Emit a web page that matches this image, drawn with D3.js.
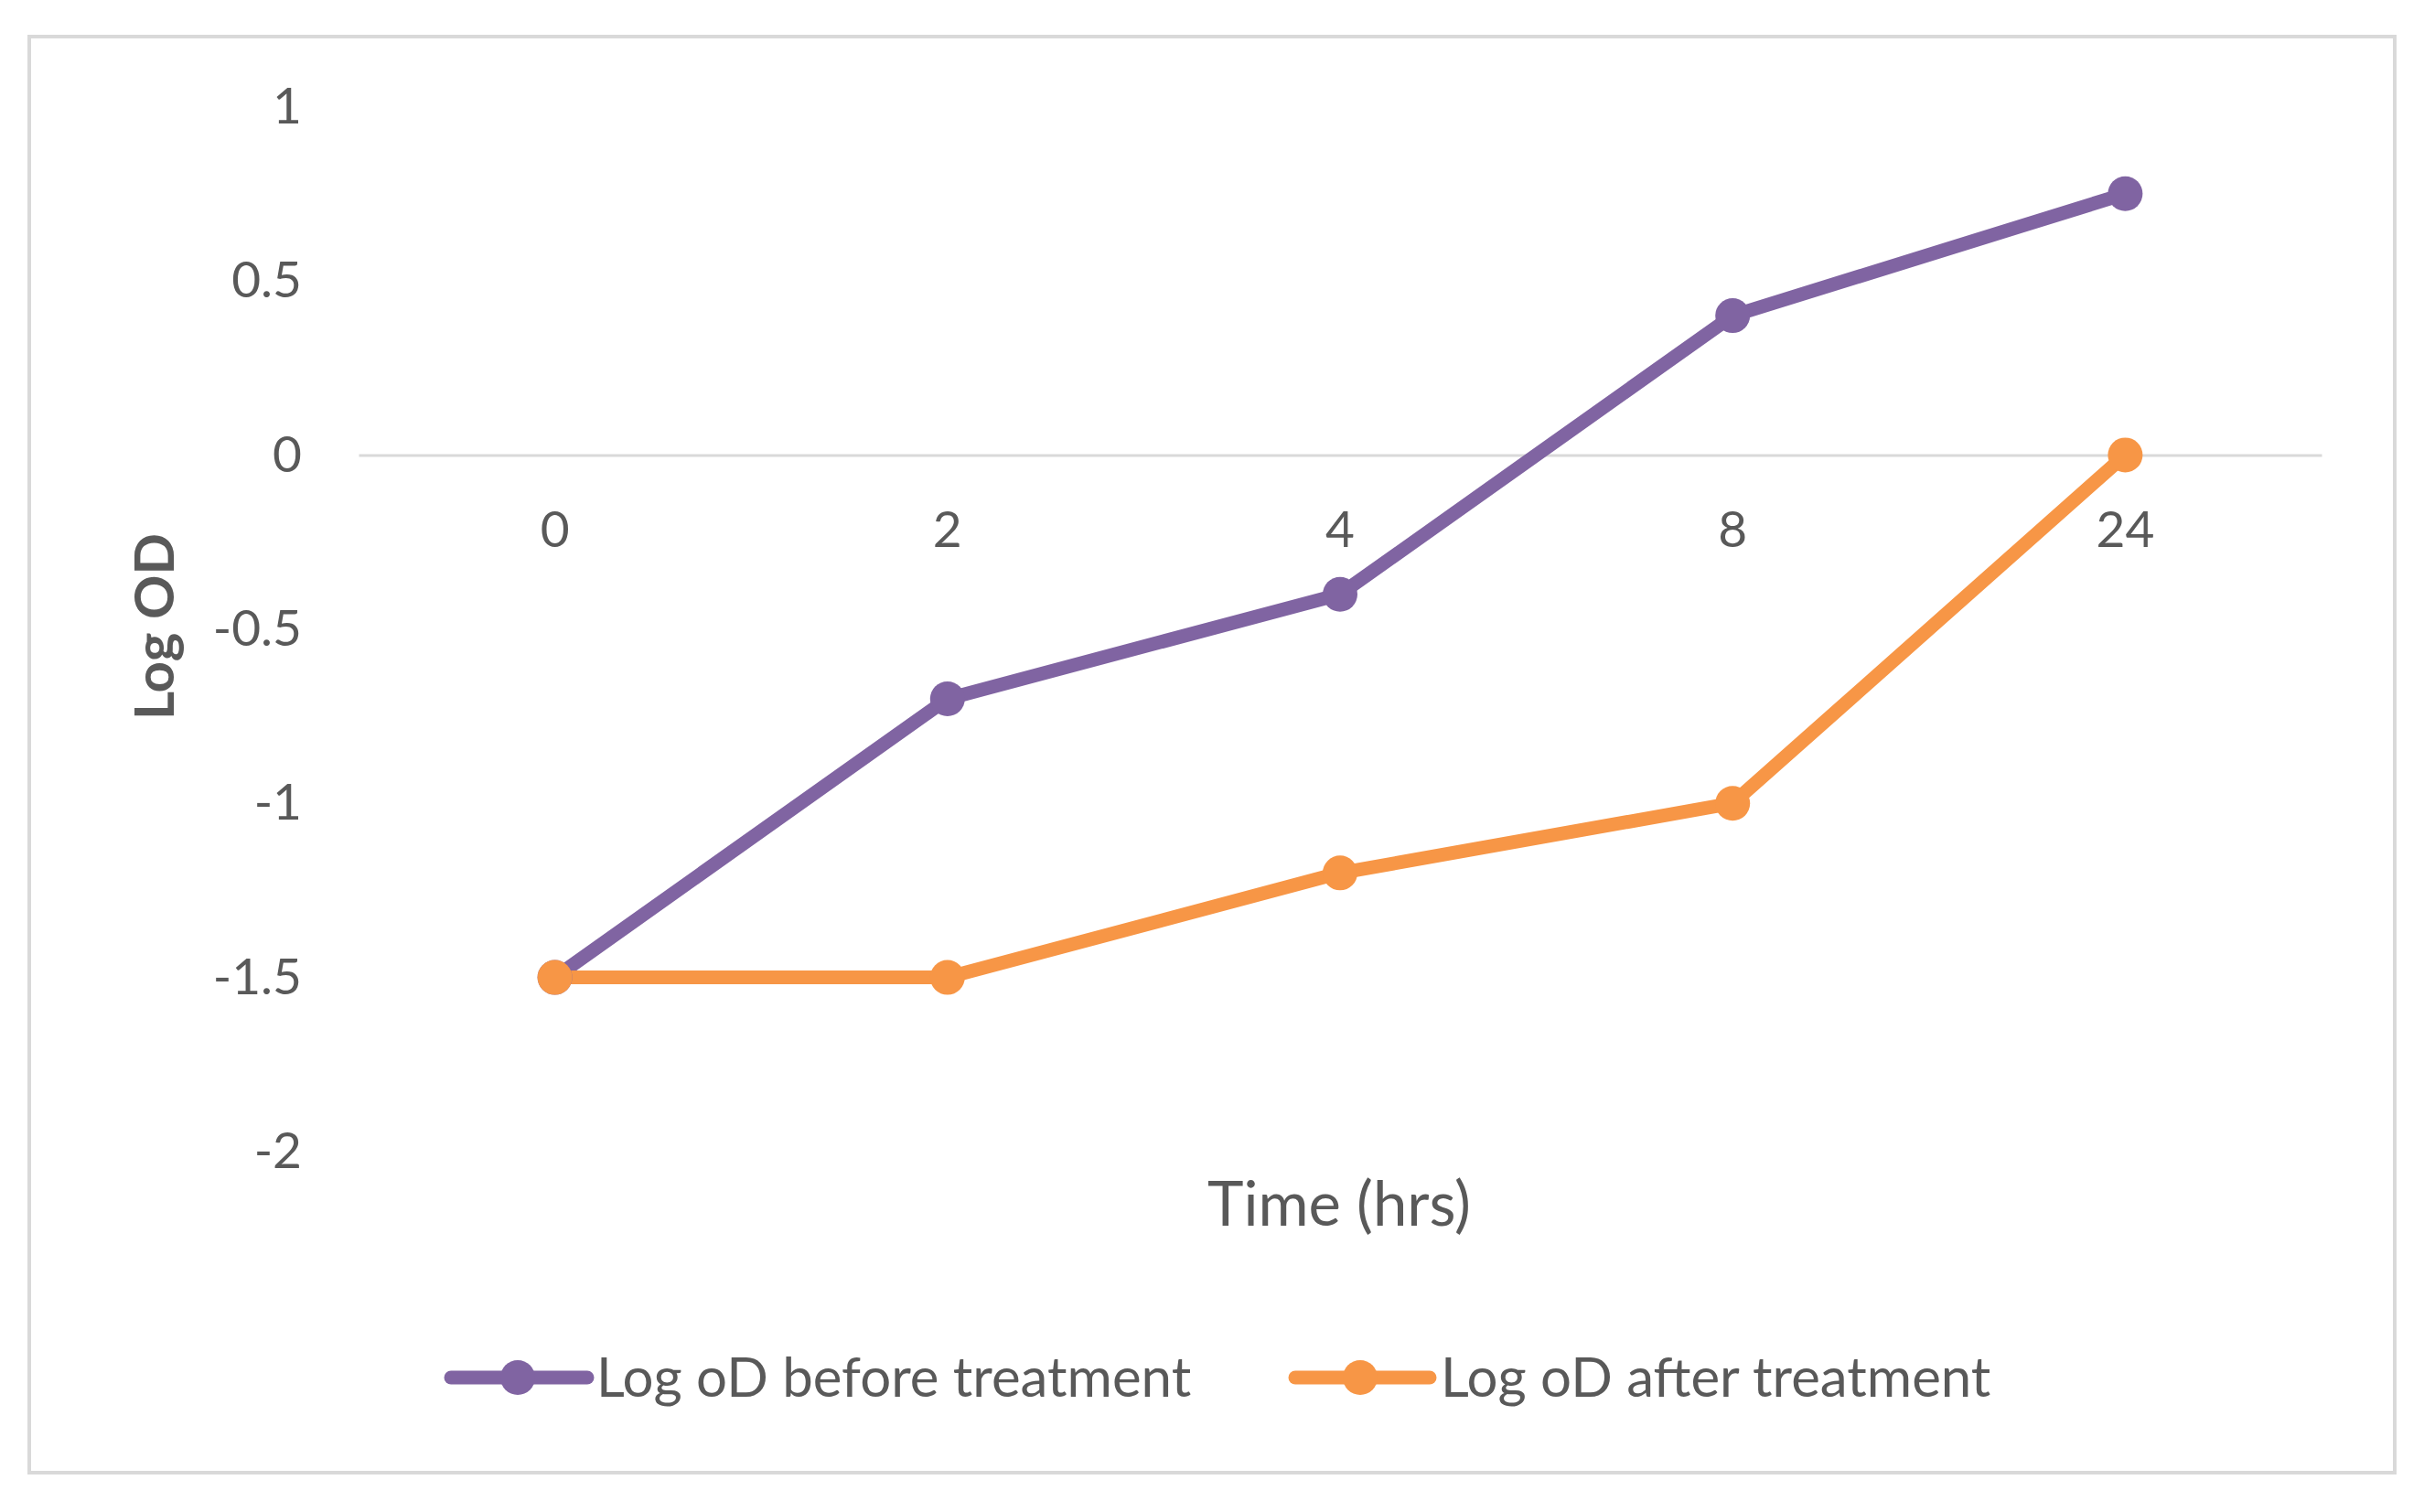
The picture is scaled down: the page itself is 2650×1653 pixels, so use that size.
<!DOCTYPE html>
<html><head><meta charset="utf-8">
<script src="https://cdn.jsdelivr.net/npm/d3@7"></script>
<style>html,body{margin:0;padding:0;background:#fff;}svg text{font-family:Lato,"Open Sans",sans-serif;fill:#595959;}</style>
</head><body>
<svg id="chart" width="2650" height="1653"></svg>
<script>
const categories = ["0", "2", "4", "8", "24"];
const beforeValues = [-1.5, -0.7, -0.4, 0.4, 0.75];
const afterValues = [-1.5, -1.5, -1.2, -1.0, 0];
const yTicks = [1, 0.5, 0, -0.5, -1, -1.5, -2];
const seriesNames = ["Log oD before treatment", "Log oD after treatment"];
const seriesColors = ["#8064A2", "#F79646"];
const xTitle = "Time (hrs)";
const yTitle = "Log OD";

const svg = d3.select("#chart");
svg.append("rect").attr("x", 32).attr("y", 40).attr("width", 2586).attr("height", 1570)
  .attr("fill", "#fff").attr("stroke", "#d9d9d9").attr("stroke-width", 4);

const x = d3.scaleBand().domain(categories).range([392, 2538]);
const y = d3.scaleLinear().domain([-2, 1]).range([1259, 116.6]);
const cx = d => x(d) + x.bandwidth() / 2;

// y axis labels
const ya = svg.append("g").attr("transform", "translate(340,0)")
  .call(d3.axisLeft(y).tickValues(yTicks).tickSize(0).tickPadding(10).tickFormat(d => String(d)));
ya.select(".domain").remove();
ya.selectAll("text").style("font-size", "55px").style("fill", "#595959").style("font-family", "Lato");

// x axis at y=0
const xa = svg.append("g").attr("transform", `translate(0,${y(0)})`)
  .call(d3.axisBottom(x).tickSize(0).tickSizeOuter(0).tickPadding(62));
xa.select(".domain").attr("stroke", "#d9d9d9").attr("stroke-width", 3);
xa.selectAll("text").style("font-size", "55px").style("fill", "#595959").style("font-family", "Lato");

// titles
svg.append("text").attr("x", 1464).attr("y", 1340).attr("text-anchor", "middle")
  .style("font-size", "67px").text(xTitle);
svg.append("text").attr("transform", "translate(190,685) rotate(-90)").attr("text-anchor", "middle")
  .style("font-size", "60px").style("font-weight", "bold").text(yTitle);

// lines
const allSeries = [beforeValues, afterValues];
const line = d3.line().x((d, i) => cx(categories[i])).y(d => y(d));
allSeries.forEach((vals, s) => {
  svg.append("path").datum(vals).attr("d", line).attr("fill", "none")
    .attr("stroke", seriesColors[s]).attr("stroke-width", 15).attr("stroke-linejoin", "round").attr("stroke-linecap", "round");
});
allSeries.forEach((vals, s) => {
  svg.append("g").selectAll("circle").data(vals).join("circle")
    .attr("cx", (d, i) => cx(categories[i])).attr("cy", d => y(d)).attr("r", 19)
    .attr("fill", seriesColors[s]);
});

// legend
const legendItems = [{lx0: 493, lx1: 642, mx: 566, tx: 652}, {lx0: 1416, lx1: 1563, mx: 1487, tx: 1575}];
const ly = 1506;
legendItems.forEach((it, s) => {
  svg.append("line").attr("x1", it.lx0).attr("x2", it.lx1).attr("y1", ly).attr("y2", ly)
    .attr("stroke", seriesColors[s]).attr("stroke-width", 15).attr("stroke-linecap", "round");
  svg.append("circle").attr("cx", it.mx).attr("cy", ly).attr("r", 19).attr("fill", seriesColors[s]);
  svg.append("text").attr("x", it.tx).attr("y", ly + 21).style("font-size", "60px").text(seriesNames[s]);
});
</script>
</body></html>
